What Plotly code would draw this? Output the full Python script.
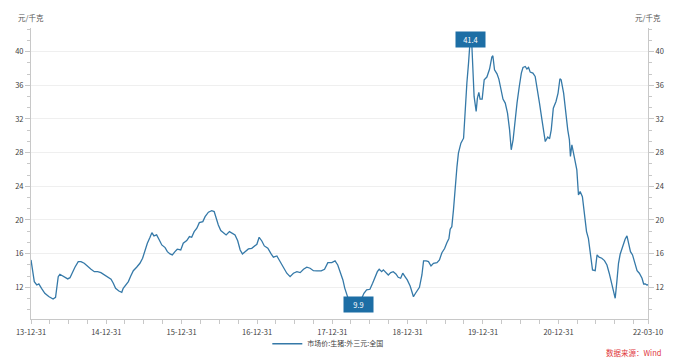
import plotly.graph_objects as go

# ---- data ----
dates = [
    "2013-12-31", "2014-01-06", "2014-01-16", "2014-01-28", "2014-02-07", "2014-02-20", "2014-03-08", "2014-03-27",
    "2014-04-17", "2014-04-29", "2014-05-07", "2014-05-12", "2014-05-20", "2014-06-01", "2014-06-14", "2014-06-27",
    "2014-07-08", "2014-07-19", "2014-08-01", "2014-08-17", "2014-08-30", "2014-09-15", "2014-10-02", "2014-10-18",
    "2014-11-03", "2014-11-19", "2014-12-05", "2014-12-21", "2015-01-07", "2015-01-23", "2015-02-03", "2015-02-14",
    "2015-03-02", "2015-03-16", "2015-03-23", "2015-04-04", "2015-04-17", "2015-04-28", "2015-05-11", "2015-05-27",
    "2015-06-12", "2015-06-25", "2015-07-07", "2015-07-18", "2015-07-31", "2015-08-09", "2015-08-19", "2015-09-01",
    "2015-09-14", "2015-09-26", "2015-10-12", "2015-10-23", "2015-11-05", "2015-11-16", "2015-11-29", "2015-12-10",
    "2015-12-27", "2016-01-08", "2016-01-25", "2016-02-07", "2016-02-18", "2016-03-01", "2016-03-14", "2016-03-26",
    "2016-04-12", "2016-04-23", "2016-05-09", "2016-05-25", "2016-06-06", "2016-06-15", "2016-06-26", "2016-07-08",
    "2016-07-21", "2016-08-03", "2016-08-19", "2016-09-04", "2016-09-15", "2016-09-28", "2016-10-10", "2016-10-21",
    "2016-11-03", "2016-11-19", "2016-12-05", "2016-12-18", "2016-12-30", "2017-01-10", "2017-01-23", "2017-02-04",
    "2017-02-21", "2017-03-09", "2017-03-20", "2017-04-06", "2017-04-22", "2017-05-08", "2017-05-24", "2017-06-09",
    "2017-06-25", "2017-07-12", "2017-07-28", "2017-08-13", "2017-08-29", "2017-09-14", "2017-09-30", "2017-10-17",
    "2017-11-07", "2017-11-23", "2017-12-09", "2017-12-28", "2018-01-13", "2018-01-26", "2018-02-11", "2018-02-20",
    "2018-03-01", "2018-03-14", "2018-03-24", "2018-05-08", "2018-05-22", "2018-06-02", "2018-06-15", "2018-07-01",
    "2018-07-14", "2018-07-25", "2018-08-06", "2018-08-15", "2018-08-27", "2018-09-04", "2018-09-17", "2018-09-28",
    "2018-10-10", "2018-10-22", "2018-11-04", "2018-11-15", "2018-11-27", "2018-12-07", "2018-12-18", "2018-12-29",
    "2019-01-12", "2019-01-20", "2019-01-28", "2019-02-07", "2019-02-17", "2019-02-26", "2019-03-10", "2019-03-18",
    "2019-03-31", "2019-04-11", "2019-04-23", "2019-05-05", "2019-05-22", "2019-06-03", "2019-06-15", "2019-06-28",
    "2019-07-09", "2019-07-19", "2019-07-25", "2019-08-02", "2019-08-10", "2019-08-18", "2019-08-27", "2019-09-03",
    "2019-09-15", "2019-09-28", "2019-10-06", "2019-10-14", "2019-10-22", "2019-10-30", "2019-11-07", "2019-11-12",
    "2019-11-18", "2019-11-28", "2019-12-04", "2019-12-11", "2019-12-17", "2019-12-27", "2020-01-06", "2020-01-19",
    "2020-02-01", "2020-02-12", "2020-02-17", "2020-02-25", "2020-03-08", "2020-03-17", "2020-03-27", "2020-04-06",
    "2020-04-17", "2020-04-28", "2020-05-08", "2020-05-16", "2020-05-25", "2020-06-03", "2020-06-13", "2020-06-24",
    "2020-07-04", "2020-07-12", "2020-07-23", "2020-07-31", "2020-08-08", "2020-08-16", "2020-08-29", "2020-09-09",
    "2020-09-21", "2020-09-30", "2020-10-12", "2020-10-20", "2020-10-28", "2020-11-09", "2020-11-18", "2020-11-26",
    "2020-12-06", "2020-12-19", "2020-12-29", "2021-01-07", "2021-01-13", "2021-01-25", "2021-02-05", "2021-02-14",
    "2021-02-22", "2021-02-27", "2021-03-06", "2021-03-18", "2021-03-30", "2021-04-07", "2021-04-15", "2021-04-26",
    "2021-05-06", "2021-05-16", "2021-05-25", "2021-06-04", "2021-06-14", "2021-06-27", "2021-07-06", "2021-07-16",
    "2021-07-29", "2021-08-11", "2021-08-23", "2021-09-03", "2021-09-12", "2021-09-24", "2021-10-02", "2021-10-10",
    "2021-10-18", "2021-10-26", "2021-11-06", "2021-11-19", "2021-11-28", "2021-12-05", "2021-12-15", "2021-12-25",
    "2022-01-04", "2022-01-16", "2022-01-27", "2022-02-09", "2022-02-17", "2022-02-25", "2022-03-05", "2022-03-10",
]
prices = [
    15.25, 14.05, 12.67, 12.27, 12.40, 11.88, 11.29, 10.90,
    10.60, 10.80, 12.07, 13.26, 13.54, 13.38, 13.14, 12.99,
    13.14, 13.74, 14.38, 15.05, 15.05, 14.85, 14.45, 14.14,
    13.85, 13.85, 13.74, 13.46, 13.14, 12.95, 12.48, 11.88,
    11.56, 11.40, 11.88, 12.27, 12.67, 13.30, 13.97, 14.38,
    14.85, 15.45, 16.43, 17.23, 17.94, 18.49, 18.10, 18.22,
    17.62, 17.03, 16.71, 16.23, 15.96, 15.84, 16.23, 16.52,
    16.43, 17.23, 17.54, 18.02, 17.94, 18.61, 19.01, 19.68,
    19.80, 20.39, 20.92, 21.10, 20.99, 20.20, 19.40, 18.73,
    18.42, 18.22, 18.61, 18.42, 18.22, 17.52, 16.43, 15.96,
    16.23, 16.55, 16.63, 16.83, 17.11, 17.94, 17.50, 16.91,
    16.63, 15.96, 15.57, 15.72, 15.05, 14.38, 13.67, 13.26,
    13.67, 13.85, 13.74, 14.14, 14.38, 14.26, 13.97, 13.94,
    13.94, 14.14, 14.93, 14.93, 15.13, 14.65, 13.60, 12.87,
    11.90, 10.88, 10.17, 9.90, 10.69, 11.29, 11.68, 11.76,
    12.48, 13.26, 13.85, 14.14, 13.85, 14.06, 13.67, 13.46,
    13.74, 13.85, 13.58, 13.19, 13.07, 13.67, 13.26, 12.87,
    12.15, 11.48, 10.88, 11.29, 11.76, 12.00, 13.46, 15.13,
    15.13, 15.05, 14.53, 14.85, 14.93, 15.25, 16.11, 16.60,
    17.30, 17.80, 18.90, 19.20, 21.19, 23.96, 26.34, 27.93,
    29.12, 29.71, 33.88, 36.26, 38.63, 41.40, 40.80, 37.84,
    34.67, 32.90, 34.47, 35.14, 34.35, 34.35, 36.65, 36.97,
    37.92, 39.35, 39.50, 37.84, 37.36, 36.73, 35.46, 34.35,
    33.88, 32.69, 30.70, 28.33, 29.51, 31.89, 33.88, 35.85,
    37.44, 38.11, 38.23, 37.92, 38.11, 37.56, 37.44, 37.04,
    35.46, 33.88, 31.89, 30.50, 29.31, 29.85, 29.65, 30.70,
    33.28, 34.07, 35.07, 36.77, 36.65, 35.07, 32.28, 30.70,
    29.51, 27.53, 28.92, 27.53, 25.95, 22.97, 23.37, 22.77,
    20.39, 18.61, 17.82, 16.04, 14.06, 13.97, 15.84, 15.57,
    15.45, 15.17, 14.65, 13.67, 12.67, 11.48, 10.69, 12.67,
    14.85, 15.92, 16.83, 17.70, 18.10, 17.42, 16.23, 15.84,
    15.05, 13.97, 13.67, 13.07, 12.39, 12.39, 12.27, 12.30,
]
series_name = "市场价:生猪:外三元:全国"
unit_label = "元/千克"
source_label = "数据来源：Wind"

x_tick_dates = ["2013-12-31", "2014-12-31", "2015-12-31", "2016-12-31", "2017-12-31",
                "2018-12-31", "2019-12-31", "2020-12-31", "2022-03-10"]
x_tick_text = ["13-12-31", "14-12-31", "15-12-31", "16-12-31", "17-12-31",
               "18-12-31", "19-12-31", "20-12-31", "22-03-10"]
quarter_ticks = [f"{y}-{md}" for y in range(2014, 2022) for md in ("03-31", "06-30", "09-30")] + ["2021-12-31"]

y_tick_vals = [12, 16, 20, 24, 28, 32, 36, 40]

# ---- styling ----
LINE = "#3579a8"
BOX = "#1d6ea5"
AXIS = "#c8c8c8"
GRID = "#efefef"
TXT = "#404040"
FONT = "Noto Sans CJK SC, Noto Sans, sans-serif"
FS = 7.5

# max / min annotations
i_max = max(range(len(prices)), key=lambda i: prices[i])
i_min = min(range(len(prices)), key=lambda i: prices[i])

fig = go.Figure()
fig.add_trace(go.Scatter(x=dates, y=prices, mode="lines", name=series_name,
                         line=dict(color=LINE, width=1.3), yaxis="y"))
# invisible twin so the right-hand axis is drawn
fig.add_trace(go.Scatter(x=dates, y=prices, mode="lines", showlegend=False, hoverinfo="skip",
                         line=dict(color="rgba(0,0,0,0)", width=0), yaxis="y2"))

yrange = [8.23, 42.8]
common_y = dict(range=yrange, tickmode="array", tickvals=y_tick_vals, ticks="outside", ticklen=5,
                tickcolor=AXIS, showline=True, linecolor=AXIS, linewidth=1, zeroline=False,
                tickfont=dict(size=FS, color=TXT, family=FONT),
                minor=dict(tickmode="linear", tick0=0, dtick=4/3, ticks="outside", ticklen=3,
                           tickcolor=AXIS, showgrid=False))

fig.update_layout(
    width=678, height=362,
    margin=dict(l=31, r=30, t=28, b=43, autoexpand=False),
    paper_bgcolor="white", plot_bgcolor="white",
    font=dict(family=FONT, size=FS, color=TXT),
    xaxis=dict(type="date", range=["2013-12-31", "2022-03-10"], tickmode="array",
               tickvals=x_tick_dates, ticktext=x_tick_text, ticks="outside", ticklen=4,
               ticklabelstandoff=2,
               tickcolor=AXIS, showline=True, linecolor=AXIS, showgrid=False, zeroline=False,
               tickfont=dict(size=FS, color=TXT, family=FONT),
               minor=dict(tickmode="array", tickvals=quarter_ticks, ticks="outside", ticklen=4,
                          tickcolor=AXIS, showgrid=False)),
    yaxis=dict(side="left", showgrid=True, gridcolor=GRID, gridwidth=1, **common_y),
    yaxis2=dict(side="right", overlaying="y", showgrid=False, **common_y),
    showlegend=True,
    legend=dict(orientation="h", x=0.383, xanchor="left", y=-0.085, yanchor="middle",
                font=dict(size=7, color=TXT, family=FONT), itemwidth=30, bgcolor="rgba(0,0,0,0)"),
    hovermode=False,
)

for i in (i_max, i_min):
    fig.add_annotation(x=dates[i], y=prices[i], xref="x", yref="y", text=f"{prices[i]:.1f}",
                       showarrow=False, bgcolor=BOX, width=25, height=11, borderpad=2,
                       font=dict(size=FS, color="white", family=FONT))

fig.add_annotation(x=0, y=1.0378, xref="paper", yref="paper", text=unit_label, showarrow=False,
                   xanchor="center", yanchor="middle", font=dict(size=FS, color="#555555", family=FONT))
fig.add_annotation(x=1, y=1.0378, xref="paper", yref="paper", text=unit_label, showarrow=False,
                   xanchor="center", yanchor="middle", font=dict(size=FS, color="#555555", family=FONT))
fig.add_annotation(x=1.0243, y=-0.115, xref="paper", yref="paper", text=source_label, showarrow=False,
                   xanchor="right", yanchor="middle", font=dict(size=7.5, color="#e0353b", family=FONT))

fig.write_html("out.html", config={"displayModeBar": False},
               post_script="document.body.style.margin='0';document.body.style.overflow='hidden';")
